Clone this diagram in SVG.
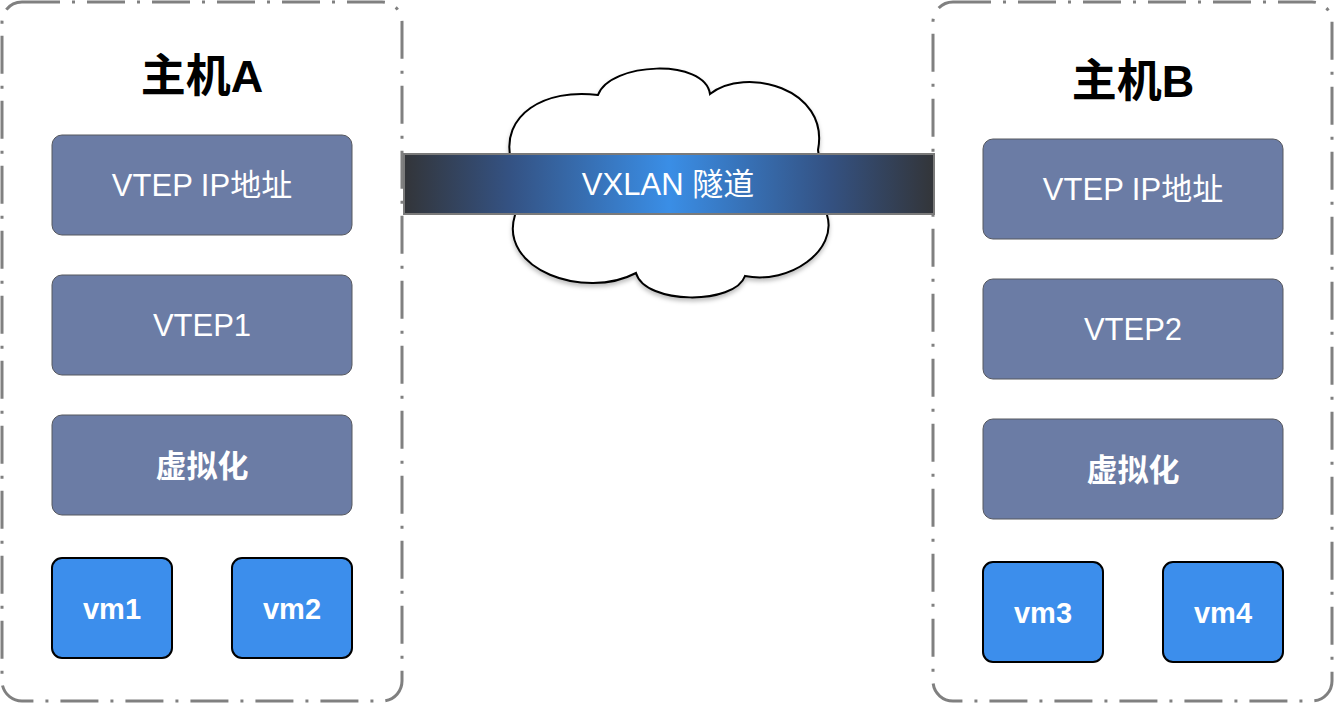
<svg xmlns="http://www.w3.org/2000/svg" width="1336" height="704" viewBox="0 0 1336 704">
<defs>
<style>
.host{fill:#ffffff;stroke:#808080;stroke-width:3;stroke-dasharray:38 12 3 12;}
.layer{fill:#6B7CA5;stroke:#56585f;stroke-width:1;}
.vm{fill:#3C8EEC;stroke:#000000;stroke-width:2;}
.title{font-family:"Liberation Sans","Noto Sans CJK SC",sans-serif;font-size:45px;font-weight:bold;fill:#000;text-anchor:middle;}
.lbl{font-family:"Liberation Sans","Noto Sans CJK SC",sans-serif;font-size:31px;fill:#fff;text-anchor:middle;}
.bold{font-weight:bold;}
.vmt{font-size:29px;font-weight:bold;}
</style>
<linearGradient id="tunnelGrad" x1="0" y1="0" x2="1" y2="0">
<stop offset="0" stop-color="#333539"/>
<stop offset="0.2" stop-color="#345283"/>
<stop offset="0.5" stop-color="#3A8EE6"/>
<stop offset="0.8" stop-color="#345283"/>
<stop offset="1" stop-color="#333539"/>
</linearGradient>
<filter id="shadow" x="-10%" y="-10%" width="120%" height="130%">
<feDropShadow dx="0" dy="3" stdDeviation="2" flood-color="#000" flood-opacity="0.25"/>
</filter>
</defs>
<rect width="1336" height="704" fill="#ffffff"/>

<g id="hostA">
<rect class="host" x="2" y="2" width="400" height="699" rx="20"/>
<text class="title" x="202" y="92">主机A</text>
</g>
<g id="hostB">
<rect class="host" x="933" y="2" width="399" height="699" rx="20"/>
<text class="title" x="1133" y="97">主机B</text>
</g>

<g id="vtepipA"><rect class="layer" x="52" y="135" width="300" height="100" rx="10"/><text class="lbl" x="202" y="196">VTEP IP地址</text></g>
<g id="vtep1"><rect class="layer" x="52" y="275" width="300" height="100" rx="10"/><text class="lbl" x="202" y="336">VTEP1</text></g>
<g id="virtA"><rect class="layer" x="52" y="415" width="300" height="100" rx="10"/><text class="lbl bold" x="202" y="477">虚拟化</text></g>
<g id="vm1"><rect class="vm" x="52" y="558" width="120" height="100" rx="10"/><text class="lbl vmt" x="112" y="619">vm1</text></g>
<g id="vm2"><rect class="vm" x="232" y="558" width="120" height="100" rx="10"/><text class="lbl vmt" x="292" y="619">vm2</text></g>

<g id="vtepipB"><rect class="layer" x="983" y="139" width="300" height="100" rx="10"/><text class="lbl" x="1133" y="200">VTEP IP地址</text></g>
<g id="vtep2"><rect class="layer" x="983" y="279" width="300" height="100" rx="10"/><text class="lbl" x="1133" y="340">VTEP2</text></g>
<g id="virtB"><rect class="layer" x="983" y="419" width="300" height="100" rx="10"/><text class="lbl bold" x="1133" y="481">虚拟化</text></g>
<g id="vm3"><rect class="vm" x="983" y="562" width="120" height="100" rx="10"/><text class="lbl vmt" x="1043" y="623">vm3</text></g>
<g id="vm4"><rect class="vm" x="1163" y="562" width="120" height="100" rx="10"/><text class="lbl vmt" x="1223" y="623">vm4</text></g>

<g id="cloud">
<path d="M 511,160 C 500,115 545,88 598,95 C 610,62 705,58 710,94 C 745,66 830,88 818,150 L 827,215 C 838,250 790,285 745,276 C 735,305 645,305 636,273 C 585,300 498,270 515,215 Z" fill="#ffffff" stroke="#000000" stroke-width="2" filter="url(#shadow)"/>
</g>

<g id="connectors">
<g id="tunnel">
<rect x="404" y="154" width="530" height="60" fill="url(#tunnelGrad)" stroke="#7a7a7a" stroke-width="2"/>
<text class="lbl" x="668" y="195">VXLAN 隧道</text>
</g>
</g>
</svg>
